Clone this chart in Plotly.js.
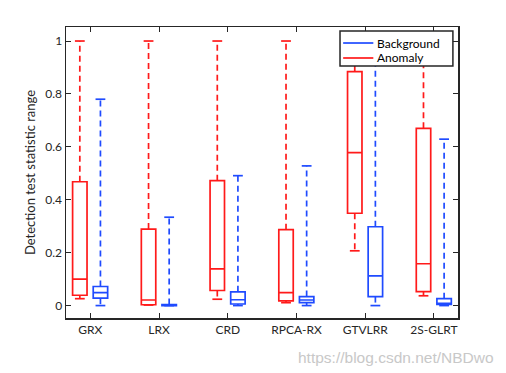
<!DOCTYPE html>
<html>
<head>
<meta charset="utf-8">
<script src="https://cdn.plot.ly/plotly-3.0.1.min.js"></script>
<style>html,body{margin:0;padding:0;background:#fff;}#chart{width:506px;height:373px;}</style>
</head>
<body>
<div id="chart"></div>
<script>
const categories = ['GRX', 'LRX', 'CRD', 'RPCA-RX', 'GTVLRR', '2S-GLRT'];

// Anomaly (red)
const anomalyLower  = [0.026, 0.002, 0.024, 0.011, 0.207, 0.037];
const anomalyQ1     = [0.039, 0.003, 0.057, 0.018, 0.349, 0.053];
const anomalyMedian = [0.100, 0.021, 0.139, 0.049, 0.578, 0.158];
const anomalyQ3     = [0.468, 0.289, 0.472, 0.287, 0.884, 0.670];
const anomalyUpper  = [1.000, 1.000, 1.000, 1.000, 1.000, 1.000];

// Background (blue)
const backgroundLower  = [0.000, 0.000, 0.000, 0.000, 0.000, 0.000];
const backgroundQ1     = [0.028, 0.000, 0.006, 0.011, 0.034, 0.004];
const backgroundMedian = [0.049, 0.002, 0.022, 0.021, 0.112, 0.008];
const backgroundQ3     = [0.072, 0.004, 0.052, 0.034, 0.298, 0.026];
const backgroundUpper  = [0.780, 0.334, 0.491, 0.528, 1.000, 0.629];

const legendNames = ['Background', 'Anomaly'];

const RED = '#ff1a1a';
const BLUE = '#1f4bff';
const legendColors = [BLUE, RED];
const anomalyOffset = -0.152;
const backgroundOffset = 0.148;
const boxWidth = 0.21;

function makeSeries(name, color, offset, lower, q1, med, q3, upper) {
  const xs = categories.map((c, i) => i + 1 + offset);
  const traces = [];
  traces.push({
    type: 'box', name: name, x: xs, q1: q1, median: med, q3: q3,
    lowerfence: q1, upperfence: q3, width: boxWidth,
    line: {color: color, width: 1.7}, fillcolor: 'rgba(0,0,0,0)',
    whiskerwidth: 0, showlegend: false, hoverinfo: 'skip', boxpoints: false
  });
  const wx = [], wy = [];
  xs.forEach((x, i) => {
    wx.push(x, x, null, x, x, null);
    wy.push(q3[i], upper[i], null, q1[i], lower[i], null);
  });
  traces.push({
    type: 'scatter', mode: 'lines', x: wx, y: wy, showlegend: false,
    line: {color: color, width: 1.7, dash: '6px,4px'}, hoverinfo: 'skip'
  });
  traces.push({
    type: 'scatter', mode: 'markers', x: xs.concat(xs), y: upper.concat(lower),
    showlegend: false, hoverinfo: 'skip',
    marker: {symbol: 'line-ew', size: 7, line: {color: color, width: 1.7}}
  });
  return traces;
}

const data = [].concat(
  makeSeries('Anomaly', RED, anomalyOffset, anomalyLower, anomalyQ1, anomalyMedian, anomalyQ3, anomalyUpper),
  makeSeries('Background', BLUE, backgroundOffset, backgroundLower, backgroundQ1, backgroundMedian, backgroundQ3, backgroundUpper)
);

const axisCommon = {
  showline: true, linecolor: '#262626', linewidth: 1.5, mirror: 'ticks',
  ticks: 'inside', ticklen: 5, tickcolor: '#262626', tickwidth: 1,
  showgrid: false, zeroline: false,
  tickfont: {family: 'Lato, "Open Sans", sans-serif', size: 12, color: '#262626'}
};

// custom MATLAB-style legend (paper coordinates)
const legX0 = 0.699, legX1 = 0.987, legY0 = 0.866, legY1 = 0.986;
const legRowY = [0.945, 0.8935];
const shapes = [{
  type: 'rect', xref: 'paper', yref: 'paper', layer: 'above',
  x0: legX0, x1: legX1, y0: legY0, y1: legY1,
  fillcolor: '#ffffff', line: {color: '#262626', width: 1.5}
}];
const annotations = [];
legendNames.forEach((n, i) => {
  shapes.push({
    type: 'line', xref: 'paper', yref: 'paper', layer: 'above',
    x0: legX0 + 0.008, x1: legX0 + 0.085, y0: legRowY[i], y1: legRowY[i],
    line: {color: legendColors[i], width: 1.7}
  });
  annotations.push({
    text: n, xref: 'paper', yref: 'paper', x: legX0 + 0.09, y: legRowY[i],
    xanchor: 'left', yanchor: 'middle', showarrow: false,
    font: {family: 'Lato, "Open Sans", sans-serif', size: 12, color: '#000'}
  });
});
annotations.push({
  text: 'https://blog.csdn.net/NBDwo', xref: 'paper', yref: 'paper',
  x: 1.097, y: -0.1, xanchor: 'right', yanchor: 'top', showarrow: false,
  font: {family: 'Liberation Sans, Arial, sans-serif', size: 15.5, color: '#c8c8c8'}
});

const layout = {
  width: 506, height: 373,
  margin: {l: 66, r: 48, t: 27, b: 55},
  paper_bgcolor: '#ffffff', plot_bgcolor: '#ffffff',
  boxmode: 'overlay',
  showlegend: false,
  xaxis: Object.assign({}, axisCommon, {
    range: [0.647, 6.35], tickmode: 'array',
    tickvals: categories.map((c, i) => i + 1), ticktext: categories
  }),
  yaxis: Object.assign({}, axisCommon, {
    range: [-0.047, 1.053], tickmode: 'array',
    tickvals: [0, 0.2, 0.4, 0.6, 0.8, 1], ticktext: ['0', '0.2', '0.4', '0.6', '0.8', '1'],
    title: {text: 'Detection test statistic range', standoff: 7,
      font: {family: 'Lato, "Open Sans", sans-serif', size: 13, color: '#262626'}}
  }),
  shapes: shapes,
  annotations: annotations
};

Plotly.newPlot('chart', data, layout, {displayModeBar: false, staticPlot: true});
</script>
</body>
</html>
